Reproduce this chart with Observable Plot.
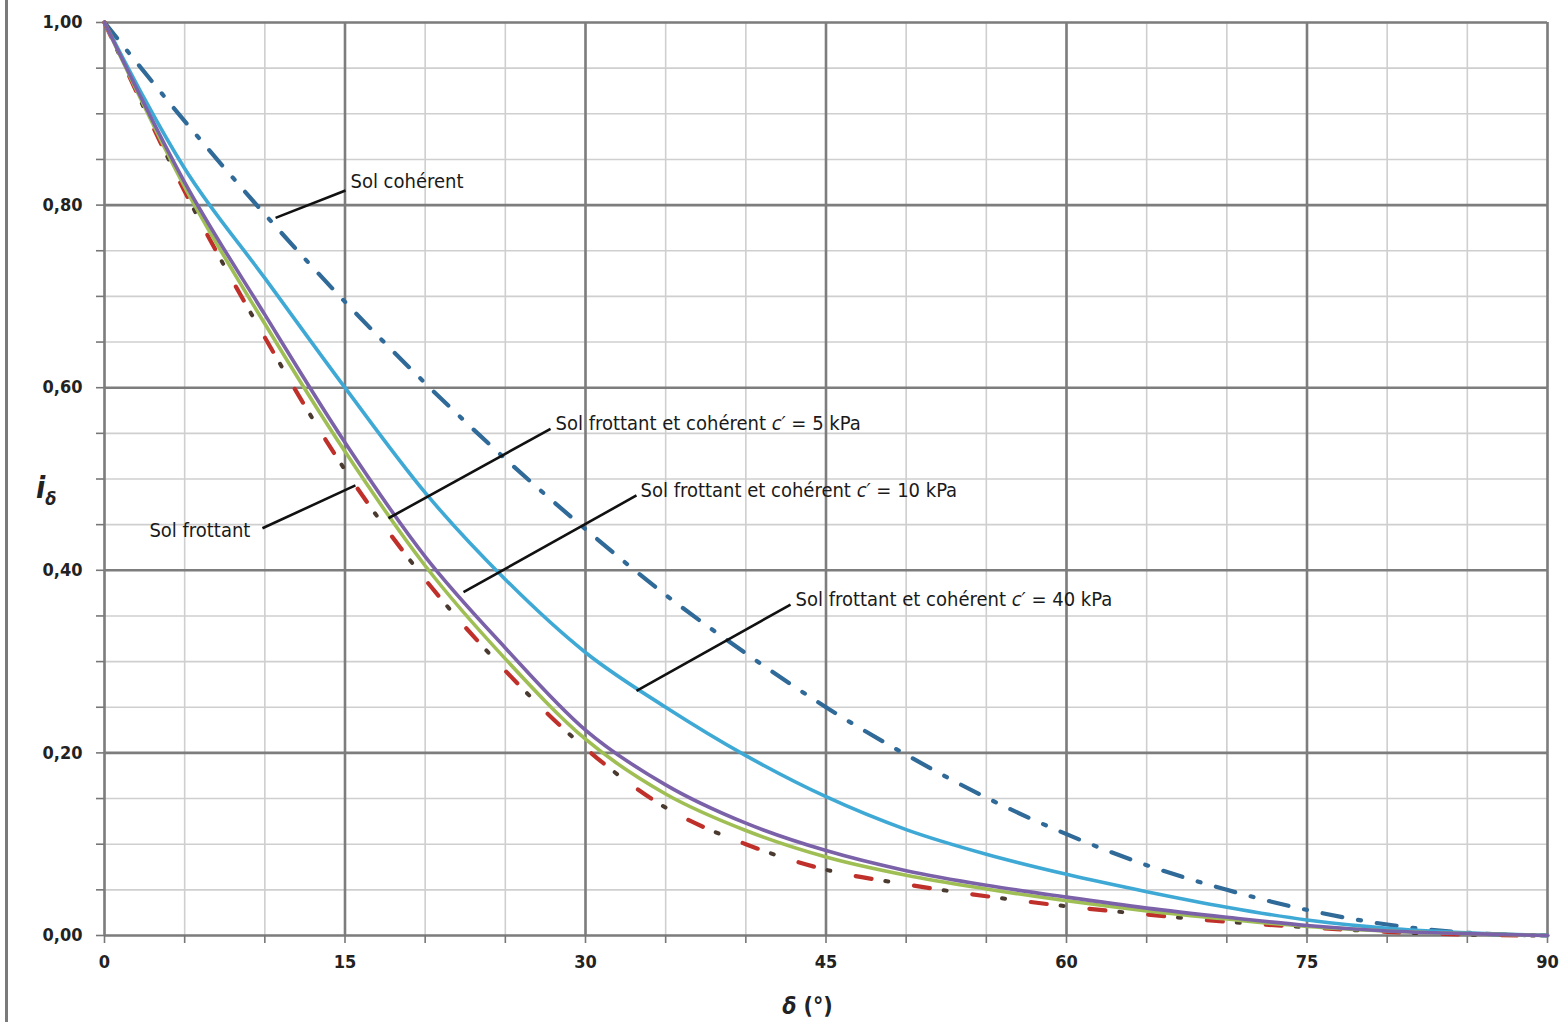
<!DOCTYPE html>
<html>
<head>
<meta charset="utf-8">
<script src="https://cdn.jsdelivr.net/npm/d3@7"></script>
<script src="https://cdn.jsdelivr.net/npm/@observablehq/plot@0.6"></script>
<style>
  html, body { margin: 0; padding: 0; background: #fff; overflow: hidden; }
  #wrap { position: relative; width: 1565px; height: 1022px; overflow: hidden; background: #fff;
          font-family: "DejaVu Sans Condensed", "DejaVu Sans", sans-serif; }
  #frame { position: absolute; left: 5px; top: 0; width: 3px; height: 1022px; background: #7a7a7a; }
  #ylab { position: absolute; left: 36px; top: 470px; font-weight: bold; font-style: italic; font-size: 30px; color: #222; }
  #ylab sub { font-size: 18px; font-style: italic; }
  #xlab { position: absolute; left: 0; width: 1565px; padding-left: 50px; box-sizing: border-box; text-align: center; top: 993px; font-weight: bold; font-size: 23px; line-height: 26px; color: #222; }
  #chart svg g[aria-label="x-axis tick label"] text,
  #chart svg g[aria-label="y-axis tick label"] text { font-size: 18px; font-weight: 600; }
</style>
</head>
<body>
<div id="wrap">
  <div id="chart"></div>
  <div id="frame"></div>
  <div id="ylab">i<sub>δ</sub></div>
  <div id="xlab"><i>δ</i> (°)</div>
</div>
<script>
// Inclination angle δ (degrees)
const deg = [0, 5, 10, 15, 20, 25, 30, 35, 40, 45, 50, 55, 60, 65, 70, 75, 80, 85, 90];
// i_δ values
const solCoherent = [1, 0.892, 0.790, 0.694, 0.605, 0.522, 0.445, 0.373, 0.309, 0.250, 0.198, 0.151, 0.111, 0.077, 0.050, 0.028, 0.012, 0.003, 0];
const c40 = [1, 0.840, 0.720, 0.600, 0.485, 0.390, 0.310, 0.250, 0.197, 0.152, 0.116, 0.089, 0.067, 0.048, 0.031, 0.017, 0.008, 0.003, 0];
const c10 = [1, 0.825, 0.680, 0.540, 0.415, 0.315, 0.225, 0.165, 0.123, 0.093, 0.071, 0.055, 0.042, 0.030, 0.020, 0.011, 0.005, 0.002, 0];
const c5 = [1, 0.820, 0.670, 0.530, 0.405, 0.303, 0.215, 0.155, 0.115, 0.086, 0.066, 0.051, 0.038, 0.027, 0.018, 0.010, 0.005, 0.002, 0];
const solFrottant = [1, 0.815, 0.655, 0.510, 0.390, 0.290, 0.205, 0.140, 0.100, 0.072, 0.056, 0.043, 0.032, 0.023, 0.015, 0.009, 0.004, 0.001, 0];

// Ticks / grid
const xMinor = d3.range(0, 91, 5);
const xMajor = d3.range(0, 91, 15);
const yMinor = d3.range(0, 21).map(i => i / 20);
const yMajor = d3.range(0, 6).map(i => i / 5);

// Annotation labels and leader lines (data units)
const labelsStart = [
  {x: 15.34, y: 0.826, text: "Sol cohérent"},
  {x: 28.13, y: 0.561, text: "Sol frottant et cohérent c′ = 5 kPa"},
  {x: 33.43, y: 0.487, text: "Sol frottant et cohérent c′ = 10 kPa"},
  {x: 43.1, y: 0.368, text: "Sol frottant et cohérent c′ = 40 kPa"}
];
const labelsEnd = [
  {x: 9.1, y: 0.443, text: "Sol frottant"}
];
const leaders = [
  {x1: 10.67, y1: 0.786, x2: 15.03, y2: 0.816},
  {x1: 9.85, y1: 0.446, x2: 15.65, y2: 0.493},
  {x1: 17.71, y1: 0.457, x2: 27.82, y2: 0.555},
  {x1: 22.39, y1: 0.376, x2: 33.18, y2: 0.482},
  {x1: 33.18, y1: 0.268, x2: 42.79, y2: 0.3625}
];

const toRows = arr => deg.map((d, i) => ({x: d, y: arr[i]}));
const fmtY = d => d.toFixed(2).replace(".", ",");
const labelFont = '"DejaVu Sans Condensed", "DejaVu Sans", sans-serif';

const chart = Plot.plot({
  width: 1565,
  height: 1022,
  marginLeft: 104,
  marginRight: 18,
  marginTop: 22,
  marginBottom: 87,
  x: {domain: [0, 90]},
  y: {domain: [0, 1]},
  style: {fontFamily: labelFont, fontSize: "18px", color: "#222", background: "#fff"},
  marks: [
    Plot.ruleX(xMinor, {stroke: "#cfcfcf", strokeWidth: 1.6}),
    Plot.ruleY(yMinor, {stroke: "#cfcfcf", strokeWidth: 1.6}),
    Plot.ruleX(xMajor, {stroke: "#7d7d7d", strokeWidth: 2.6}),
    Plot.ruleY(yMajor, {stroke: "#7d7d7d", strokeWidth: 2.6}),
    Plot.axisX({ticks: xMinor, tickSize: 8, tickPadding: 12, stroke: "#777", strokeWidth: 1.6, fill: "#222",
                tickFormat: d => (d % 15 === 0 ? String(d) : ""), label: null}),
    Plot.axisY({ticks: yMinor, tickSize: 8, tickPadding: 14, stroke: "#777", strokeWidth: 1.6, fill: "#222",
                tickFormat: (d, i) => (i % 4 === 0 ? fmtY(d) : ""), label: null}),
    // Sol cohérent (dash-dot, dark blue)
    Plot.line(toRows(solCoherent), {x: "x", y: "y", curve: "monotone-x", stroke: "#2f6a98", strokeWidth: 4.2, strokeDasharray: "20,16,3,16"}),
    // c' = 40 kPa
    Plot.line(toRows(c40), {x: "x", y: "y", curve: "monotone-x", stroke: "#3fa9d6", strokeWidth: 3.6}),
    // Sol frottant (dash-dot, red dashes with dark dots)
    Plot.line(toRows(solFrottant), {x: "x", y: "y", curve: "monotone-x", stroke: "#c0302a", strokeWidth: 4.2, strokeDasharray: "16,43"}),
    Plot.line(toRows(solFrottant), {x: "x", y: "y", curve: "monotone-x", stroke: "#4a3a30", strokeWidth: 4, strokeDasharray: "3,56", strokeDashoffset: 29}),
    // c' = 5 kPa
    Plot.line(toRows(c5), {x: "x", y: "y", curve: "monotone-x", stroke: "#9fbf55", strokeWidth: 3.6}),
    // c' = 10 kPa
    Plot.line(toRows(c10), {x: "x", y: "y", curve: "monotone-x", stroke: "#7b62a8", strokeWidth: 3.6}),
    // Leaders and labels
    Plot.link(leaders, {x1: "x1", y1: "y1", x2: "x2", y2: "y2", stroke: "#111", strokeWidth: 2.6}),
    Plot.text(labelsStart, {x: "x", y: "y", text: "text", textAnchor: "start", fontSize: 20, fill: "#1a1a1a", lineAnchor: "middle"}),
    Plot.text(labelsEnd, {x: "x", y: "y", text: "text", textAnchor: "end", fontSize: 20, fill: "#1a1a1a", lineAnchor: "middle"})
  ]
});

document.getElementById("chart").appendChild(chart);

// Italicise the cohesion symbol c′ inside the labels
d3.select(chart).selectAll("text").each(function () {
  const t = this.textContent;
  const k = t.indexOf("c′");
  if (k >= 0 && this.children.length === 0) {
    const sel = d3.select(this);
    sel.text(null);
    sel.append("tspan").text(t.slice(0, k));
    sel.append("tspan").attr("font-style", "italic").text("c′");
    sel.append("tspan").text(t.slice(k + 2));
  }
});
</script>
</body>
</html>
